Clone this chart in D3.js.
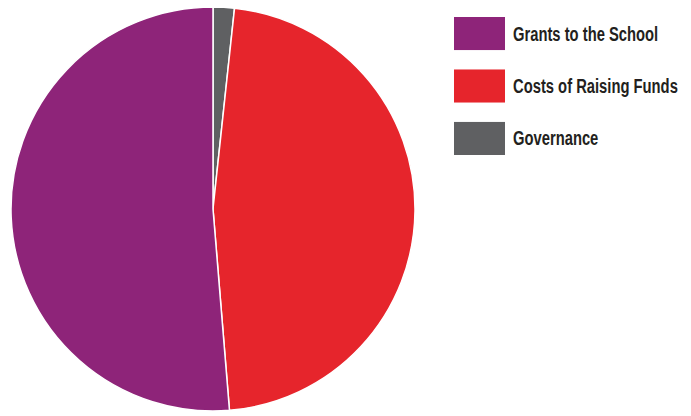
<!DOCTYPE html>
<html>
<head>
<meta charset="utf-8">
<script src="https://cdn.jsdelivr.net/npm/d3@7"></script>
<style>
  body { margin: 0; background: #fff; }
  text { font-family: "Liberation Sans", Arial, sans-serif; font-weight: bold; }
</style>
</head>
<body>
<div class="container"></div>
<script>
const labels = ["Governance", "Costs of Raising Funds", "Grants to the School"];
const values = [1.7, 47.0, 51.3];
const colors = ["#5f6062", "#e6252c", "#8e2479"];
const legendOrder = ["Grants to the School", "Costs of Raising Funds", "Governance"];

const w = 691;
const h = 416;
const cx = 213, cy = 209, r = 202;

const svg = d3.select(".container")
  .append("svg")
  .attr("width", w)
  .attr("height", h);

const color = d3.scaleOrdinal().domain(labels).range(colors);

const pie = d3.pie().sort(null).value(d => d.v);
const arc = d3.arc().innerRadius(0).outerRadius(r);

const data = labels.map((l, i) => ({ l: l, v: values[i] }));

svg.append("g")
  .attr("transform", "translate(" + cx + "," + cy + ")")
  .selectAll("path")
  .data(pie(data))
  .enter()
  .append("path")
  .attr("d", arc)
  .attr("fill", d => color(d.data.l))
  .attr("stroke", "#fff")
  .attr("stroke-width", 1.5);

const legendY = d3.scaleBand().domain(legendOrder).range([17, 155]).paddingInner(0.37).paddingOuter(0);

const lg = svg.append("g").selectAll("g")
  .data(legendOrder)
  .enter()
  .append("g")
  .attr("transform", d => "translate(454," + legendY(d) + ")");

lg.append("rect")
  .attr("width", 51)
  .attr("height", legendY.bandwidth())
  .attr("fill", d => color(d));

// condensed look: squeeze the labels so the longest one is ~165px wide
const txt = lg.append("text")
  .attr("font-size", 21)
  .attr("fill", "#231f20")
  .text(d => d);

let maxW = 0;
txt.each(function() { maxW = Math.max(maxW, this.getComputedTextLength()); });
const sx = 165 / maxW;
txt.attr("transform", "translate(59," + (legendY.bandwidth() / 2 + 7) + ") scale(" + sx + ",1)");
</script>
</body>
</html>
